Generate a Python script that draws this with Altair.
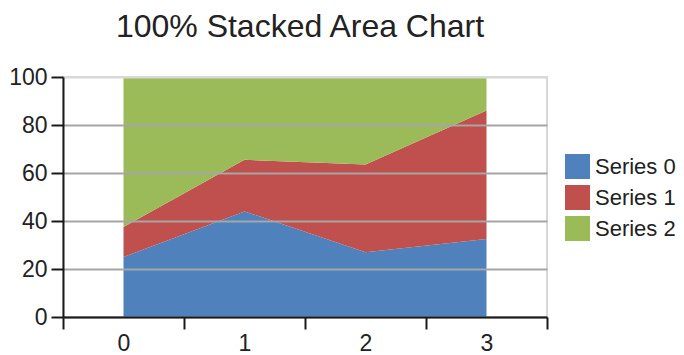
import altair as alt
import pandas as pd

categories = [0, 1, 2, 3]
series_names = ["Series 0", "Series 1", "Series 2"]
series0 = [25, 44, 27, 32.5]
series1 = [12.5, 21.5, 36.5, 53.5]
series2 = [62.5, 34.5, 36.5, 14]
colors = ["#4f81bd", "#c0504d", "#9bbb59"]

rows = []
for idx, (name, vals) in enumerate(zip(series_names, [series0, series1, series2])):
    for c, v in zip(categories, vals):
        rows.append({"x": c, "value": v, "series": name, "order": idx})
df = pd.DataFrame(rows)

FONT = "Liberation Sans"

chart = alt.Chart(df).mark_area(opacity=1).encode(
    x=alt.X(
        "x:Q",
        scale=alt.Scale(domain=[-0.5, 3.5], nice=False, zero=False),
        axis=alt.Axis(
            title=None,
            values=[-0.5, 0.5, 1.5, 2.5, 3.5],
            labelExpr="datum.value < 3 ? format(datum.value + 0.5, 'd') : ''",
            labelOffset=60.5,
            labelFlush=False,
            labelOverlap=False,
            grid=False,
            tickSize=12,
            tickWidth=2,
            tickColor="#1a1a1a",
            domainColor="#1a1a1a",
            domainWidth=2,
            labelFont=FONT,
            labelFontSize=23,
            labelColor="#222222",
            labelPadding=3,
            zindex=1,
        ),
    ),
    y=alt.Y(
        "value:Q",
        stack="normalize",
        scale=alt.Scale(domain=[0, 1], nice=False),
        axis=alt.Axis(
            title=None,
            values=[0, 0.2, 0.4, 0.6, 0.8, 1.0],
            labelExpr="format(datum.value * 100, 'd')",
            labelFlush=False,
            labelOverlap=False,
            tickSize=12,
            tickWidth=2,
            tickColor="#1a1a1a",
            domainColor="#1a1a1a",
            domainWidth=2,
            gridColor=alt.condition("datum.value >= 1", alt.value("#d8d8d8"), alt.value("#a6a6a6")),
            gridWidth=2,
            labelFont=FONT,
            labelFontSize=23,
            labelColor="#222222",
            labelPadding=4,
            zindex=1,
        ),
    ),
    color=alt.Color(
        "series:N",
        scale=alt.Scale(domain=series_names, range=colors),
        legend=alt.Legend(
            title=None,
            orient="none",
            legendX=502,
            legendY=77,
            padding=0,
            symbolType="square",
            symbolSize=625,
            symbolStrokeWidth=0,
            symbolOpacity=1,
            labelFont=FONT,
            labelFontSize=22,
            labelColor="#222222",
            labelOffset=5,
            rowPadding=6,
            labelLimit=200,
        ),
    ),
    order=alt.Order("order:Q", sort="ascending"),
).properties(
    width=484,
    height=240,
    title=alt.TitleParams(
        "100% Stacked Area Chart",
        font=FONT,
        fontSize=32,
        fontWeight="normal",
        color="#222222",
        anchor="middle",
        offset=22,
        dx=-5,
    ),
    autosize=alt.AutoSizeParams(type="none"),
    padding={"left": 55, "top": 69, "right": 129, "bottom": 42},
).configure_view(
    stroke="#d8d8d8",
    strokeWidth=2,
)

chart.save("out.html", embed_options={"renderer": "svg", "actions": False})
